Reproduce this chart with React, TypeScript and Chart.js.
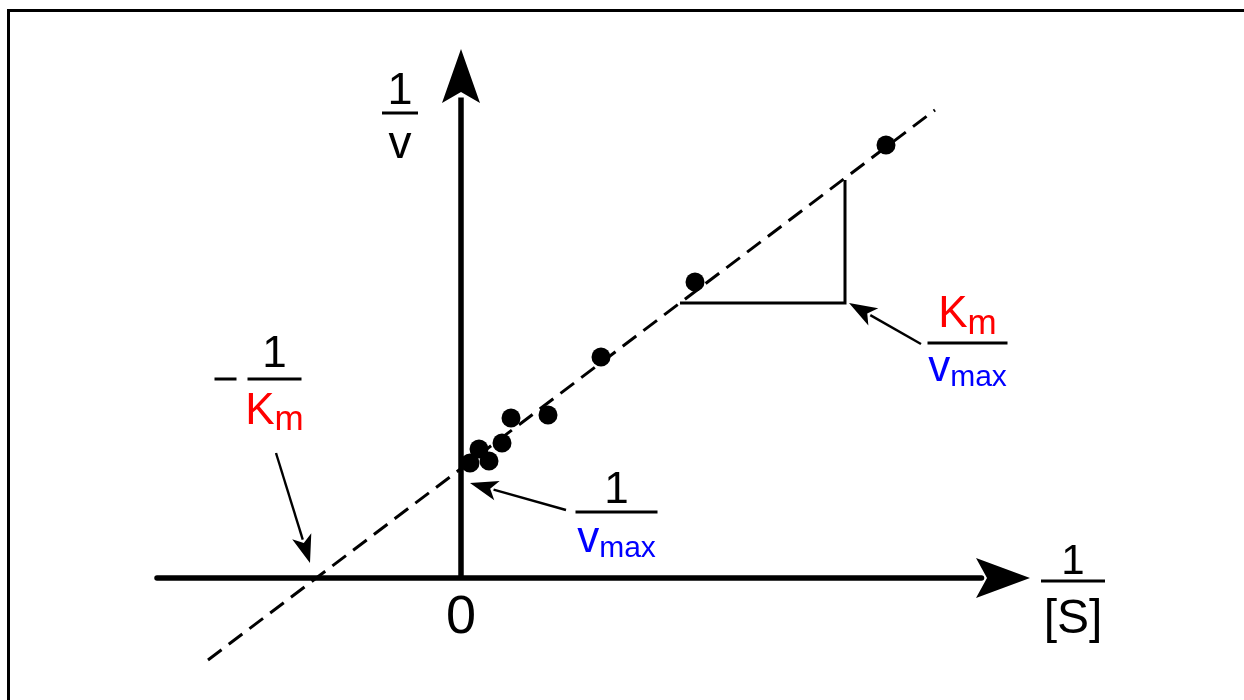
import React, { useEffect, useRef } from "react";
import { Chart, registerables } from "chart.js";

Chart.register(...registerables);

// ---- data (1/[S] and 1/v in arbitrary units) ----
const S_INV = [0.09, 0.18, 0.28, 0.41, 0.5, 0.87, 1.4, 2.34, 4.25];
const V_INV = [1.15, 1.29, 1.17, 1.35, 1.6, 1.63, 2.21, 2.96, 4.33];

// fitted Lineweaver-Burk line
const FIT_X = [-2.53, 4.74];
const FIT_Y = [-0.82, 4.68];

// slope triangle
const TRI_X = [2.19, 3.84, 3.84];
const TRI_Y = [2.75, 2.75, 3.98];

// axes extents
const X_AXIS_RANGE = [-3.04, 5.69];
const Y_AXIS_RANGE = [0, 5.29];

// annotation arrows (tail -> tip)
const ARROW_FROM_X = [4.6, 1.05, -1.85];
const ARROW_FROM_Y = [2.34, 0.68, 1.25];
const ARROW_TO_X = [3.88, 0.09, -1.51];
const ARROW_TO_Y = [2.75, 0.95, 0.15];

const X_MIN = -4.61;
const X_MAX = 7.83;
const Y_MIN = -1.22;
const Y_MAX = 5.78;

const FONT = '"Liberation Sans", Arial, sans-serif';
const RED = "#ff0000";
const BLUE = "#0000ff";

type Run = { t: string; size: number; color?: string; dy?: number };
type Frac = {
  x: number;
  y: number;
  half: number;
  num: Run[];
  numDy: number;
  den: Run[];
  denDy: number;
  minus?: boolean;
};

const FRACTIONS: Frac[] = [
  { x: -0.61, y: 4.65, half: 18, num: [{ t: "1", size: 45 }], numDy: -9, den: [{ t: "v", size: 46 }], denDy: 45 },
  {
    x: -1.865, y: 1.99, half: 27, minus: true,
    num: [{ t: "1", size: 44 }], numDy: -12,
    den: [{ t: "K", size: 44, color: RED }, { t: "m", size: 35, color: RED, dy: 6 }], denDy: 45,
  },
  {
    x: 1.555, y: 0.66, half: 41,
    num: [{ t: "1", size: 44 }], numDy: -9,
    den: [{ t: "v", size: 44, color: BLUE }, { t: "max", size: 30, color: BLUE, dy: 5 }], denDy: 40,
  },
  {
    x: 5.065, y: 2.35, half: 40,
    num: [{ t: "K", size: 44, color: RED }, { t: "m", size: 35, color: RED, dy: 7 }], numDy: -16,
    den: [{ t: "v", size: 44, color: BLUE }, { t: "max", size: 30, color: BLUE, dy: 5 }], denDy: 38,
  },
  {
    x: 6.12, y: -0.03, half: 32,
    num: [{ t: "1", size: 42 }], numDy: -7,
    den: [{ t: "[S]", size: 48 }], denDy: 52,
  },
];

const ZERO_LABEL = { t: "0", x: 0, y: -0.55, size: 54 };

function drawRuns(ctx: CanvasRenderingContext2D, runs: Run[], cx: number, base: number) {
  let total = 0;
  const widths = runs.map((r) => {
    ctx.font = `${r.size}px ${FONT}`;
    const w = ctx.measureText(r.t).width;
    total += w;
    return w;
  });
  let x = cx - total / 2;
  ctx.textAlign = "left";
  ctx.textBaseline = "alphabetic";
  runs.forEach((r, i) => {
    ctx.font = `${r.size}px ${FONT}`;
    ctx.fillStyle = r.color || "#000";
    ctx.fillText(r.t, x, base + (r.dy || 0));
    x += widths[i];
  });
}

function arrowHead(
  ctx: CanvasRenderingContext2D,
  x0: number, y0: number, x1: number, y1: number,
  L: number, W: number, N: number
) {
  const dx = x1 - x0;
  const dy = y1 - y0;
  const len = Math.hypot(dx, dy);
  const ux = dx / len;
  const uy = dy / len;
  const px = -uy;
  const py = ux;
  ctx.beginPath();
  ctx.moveTo(x1, y1);
  ctx.lineTo(x1 - ux * L + px * W, y1 - uy * L + py * W);
  ctx.lineTo(x1 - ux * (L - N), y1 - uy * (L - N));
  ctx.lineTo(x1 - ux * L - px * W, y1 - uy * L - py * W);
  ctx.closePath();
  ctx.fill();
}

function arrow(
  ctx: CanvasRenderingContext2D,
  x0: number, y0: number, x1: number, y1: number,
  lw: number, L: number, W: number, N: number, cap: CanvasLineCap
) {
  const len = Math.hypot(x1 - x0, y1 - y0);
  const ux = (x1 - x0) / len;
  const uy = (y1 - y0) / len;
  ctx.lineWidth = lw;
  ctx.lineCap = cap;
  ctx.strokeStyle = "#000";
  ctx.fillStyle = "#000";
  ctx.beginPath();
  ctx.moveTo(x0, y0);
  ctx.lineTo(x1 - ux * (L - N * 0.5), y1 - uy * (L - N * 0.5));
  ctx.stroke();
  arrowHead(ctx, x0, y0, x1, y1, L, W, N);
}

const decorPlugin = {
  id: "lbDecor",
  beforeDatasetsDraw(chart: any) {
    const ctx: CanvasRenderingContext2D = chart.ctx;
    const xs = chart.scales.x;
    const ys = chart.scales.y;
    ctx.save();
    // frame
    ctx.strokeStyle = "#000";
    ctx.lineWidth = 3;
    ctx.beginPath();
    ctx.moveTo(8.5, 720);
    ctx.lineTo(8.5, 10.5);
    ctx.lineTo(1260, 10.5);
    ctx.stroke();
    // axes
    const x0 = xs.getPixelForValue(0);
    const y0 = ys.getPixelForValue(0);
    arrow(ctx, xs.getPixelForValue(X_AXIS_RANGE[0]), y0, xs.getPixelForValue(X_AXIS_RANGE[1]), y0, 5.5, 54, 20, 11, "round");
    arrow(ctx, x0, ys.getPixelForValue(Y_AXIS_RANGE[0]), x0, ys.getPixelForValue(Y_AXIS_RANGE[1]), 5.5, 54, 19, 11, "butt");
    ctx.restore();
  },
  afterDatasetsDraw(chart: any) {
    const ctx: CanvasRenderingContext2D = chart.ctx;
    const xs = chart.scales.x;
    const ys = chart.scales.y;
    ctx.save();
    // annotation arrows
    for (let i = 0; i < ARROW_FROM_X.length; i++) {
      arrow(
        ctx,
        xs.getPixelForValue(ARROW_FROM_X[i]), ys.getPixelForValue(ARROW_FROM_Y[i]),
        xs.getPixelForValue(ARROW_TO_X[i]), ys.getPixelForValue(ARROW_TO_Y[i]),
        2.4, 28, 10, 7, "butt"
      );
    }
    // fractions
    FRACTIONS.forEach((f) => {
      const cx = xs.getPixelForValue(f.x);
      const by = ys.getPixelForValue(f.y);
      ctx.strokeStyle = "#000";
      ctx.lineWidth = 3;
      ctx.lineCap = "butt";
      ctx.beginPath();
      ctx.moveTo(cx - f.half, by);
      ctx.lineTo(cx + f.half, by);
      if (f.minus) {
        ctx.moveTo(cx - 60, by);
        ctx.lineTo(cx - 38, by);
      }
      ctx.stroke();
      drawRuns(ctx, f.num, cx, by + f.numDy);
      drawRuns(ctx, f.den, cx, by + f.denDy);
    });
    drawRuns(ctx, [{ t: ZERO_LABEL.t, size: ZERO_LABEL.size }], xs.getPixelForValue(ZERO_LABEL.x), ys.getPixelForValue(ZERO_LABEL.y));
    ctx.restore();
  },
};

export default function App() {
  const ref = useRef<HTMLCanvasElement | null>(null);
  useEffect(() => {
    if (!ref.current) return;
    const chart = new Chart(ref.current, {
      type: "scatter",
      data: {
        datasets: [
          {
            label: "data",
            data: S_INV.map((x, i) => ({ x, y: V_INV[i] })),
            backgroundColor: "#000",
            borderColor: "#000",
            borderWidth: 0,
            pointRadius: 9.5,
            showLine: false,
            clip: false,
          },
          {
            label: "fit",
            data: FIT_X.map((x, i) => ({ x, y: FIT_Y[i] })),
            borderColor: "#000",
            borderWidth: 3,
            borderDash: [17, 9],
            pointRadius: 0,
            showLine: true,
          },
          {
            label: "slope",
            data: TRI_X.map((x, i) => ({ x, y: TRI_Y[i] })),
            borderColor: "#000",
            borderWidth: 3,
            pointRadius: 0,
            showLine: true,
          },
        ],
      },
      options: {
        animation: false,
        responsive: false,
        events: [],
        layout: { padding: 0, autoPadding: false },
        plugins: { legend: { display: false }, tooltip: { enabled: false } },
        scales: {
          x: { type: "linear", min: X_MIN, max: X_MAX, display: false },
          y: { type: "linear", min: Y_MIN, max: Y_MAX, display: false },
        },
      },
      plugins: [decorPlugin],
    });
    return () => chart.destroy();
  }, []);
  return (
    <div style={{ position: "fixed", left: 0, top: 0, width: 1244, height: 700, background: "#fff" }}>
      <canvas ref={ref} width={1244} height={700} />
    </div>
  );
}
